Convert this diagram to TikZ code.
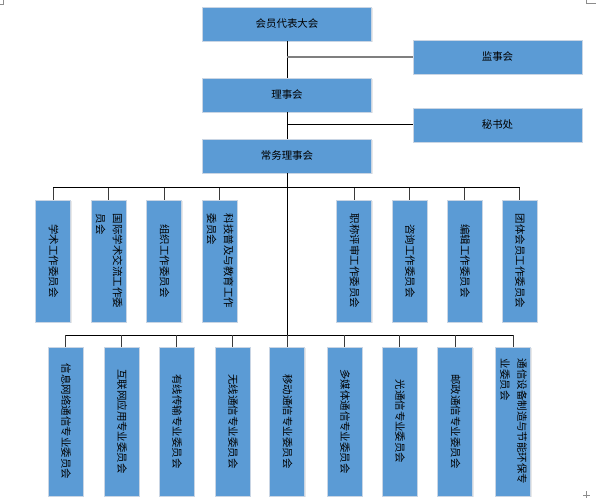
\documentclass[tikz,border=0pt]{standalone}
\usepackage{fontspec}
\setmainfont{Noto Sans CJK SC}
\usetikzlibrary{shadows}
\definecolor{boxblue}{HTML}{5B9BD5}
\definecolor{boxedge}{HTML}{C9D5E4}
\definecolor{linkgray}{HTML}{7F7F7F}
\definecolor{dropgray}{HTML}{3A3A3A}
\newcommand{\vtext}[1]{\rotatebox{-90}{\begin{tabular}{@{}l@{}}#1\end{tabular}}}
\begin{document}
\begin{tikzpicture}[x=1bp,y=-1bp,
  box/.style={fill=boxblue, draw=boxedge, line width=0.9bp, inner sep=0pt,
    drop shadow={opacity=0.18, shadow xshift=1.2bp, shadow yshift=-1.2bp}},
  hbox/.style={box, minimum width=169bp, minimum height=34bp,
    font=\fontsize{10.5}{12}\selectfont},
  vboxa/.style={box, minimum width=35bp, minimum height=122bp,
    font=\fontsize{10.5}{17}\selectfont},
  vboxb/.style={box, minimum width=35bp, minimum height=149bp,
    font=\fontsize{10.5}{17}\selectfont},
  mainline/.style={draw=black, line width=1bp},
  dropline/.style={draw=dropgray, line width=1bp},
  sideline/.style={draw=linkgray, line width=1.5bp},
  marks/.style={draw=black!45, line width=0.6bp}]
\useasboundingbox (0,0) rectangle (596,498);

% top column
\node[hbox] (hy)  at (287,24)  {会员代表大会};
\node[hbox] (lsh) at (287,95)  {理事会};
\node[hbox] (cw)  at (287,156) {常务理事会};
\node[hbox] (jsh) at (497.5,57)  {监事会};
\node[hbox] (msc) at (497.5,125) {秘书处};

\coordinate (b1) at (287,188);
\coordinate (b2) at (287,335);

% row 1
\node[vboxa] (a1) at (53,261)    {\vtext{学术工作委员会}};
\node[vboxa] (a2) at (108.5,261) {\vtext{国际学术交流工作委\\员会}};
\node[vboxa] (a3) at (164,261)   {\vtext{组织工作委员会}};
\node[vboxa] (a4) at (219.5,261) {\vtext{科技普及与教育工作\\委员会}};
\node[vboxa] (a5) at (354,261)   {\vtext{职称评审工作委员会}};
\node[vboxa] (a6) at (409.5,261) {\vtext{咨询工作委员会}};
\node[vboxa] (a7) at (464.5,261) {\vtext{编辑工作委员会}};
\node[vboxa] (a8) at (519.5,261) {\vtext{团体会员工作委员会}};

% row 2
\node[vboxb] (c1) at (65.5,421.5)  {\vtext{信息网络通信专业委员会}};
\node[vboxb] (c2) at (121.5,421.5) {\vtext{互联网应用专业委员会}};
\node[vboxb] (c3) at (176.5,421.5) {\vtext{有线传输专业委员会}};
\node[vboxb] (c4) at (232.5,421.5) {\vtext{无线通信专业委员会}};
\node[vboxb] (c5) at (287,421.5)   {\vtext{移动通信专业委员会}};
\node[vboxb] (c6) at (344.5,421.5) {\vtext{多媒体通信专业委员会}};
\node[vboxb] (c7) at (399.5,421.5) {\vtext{光通信专业委员会}};
\node[vboxb] (c8) at (455,421.5)   {\vtext{邮政通信专业委员会}};
\node[vboxb] (c9) at (513,421.5)   {\vtext{通信设备制造与节能环保专\\业委员会}};

% connectors of the top column
\path[mainline] (hy.south) -- (lsh.north);
\path[mainline] (lsh.south) -- (cw.north);
\path[sideline] (hy.south |- jsh.west) -- (jsh.west);
\path[mainline] (lsh.south |- msc.west) -- (msc.west);
\path[mainline] (cw.south) -- (b2);

% bus 1
\path[mainline] (a1.north |- b1) -- (a8.north |- b1);
\foreach \n in {a1,a2,a3,a4,a5,a6,a7,a8}
  \path[dropline] (\n.north |- b1) -- (\n.north);

% bus 2
\path[mainline] (c1.north |- b2) -- (c9.north |- b2);
\foreach \n in {c1,c2,c3,c4,c5,c6,c7,c8,c9}
  \path[dropline] (\n.north |- b2) -- (\n.north);

% page corner marks
\path[marks] (0,4.5) -- (3.5,4.5) -- (3.5,0);
\path[marks] (586,0) -- (586,3) -- (596,3);
\path[marks] (586.5,491) -- (586.5,498);
\path[marks] (583,495) -- (590,495);
\end{tikzpicture}
\end{document}
